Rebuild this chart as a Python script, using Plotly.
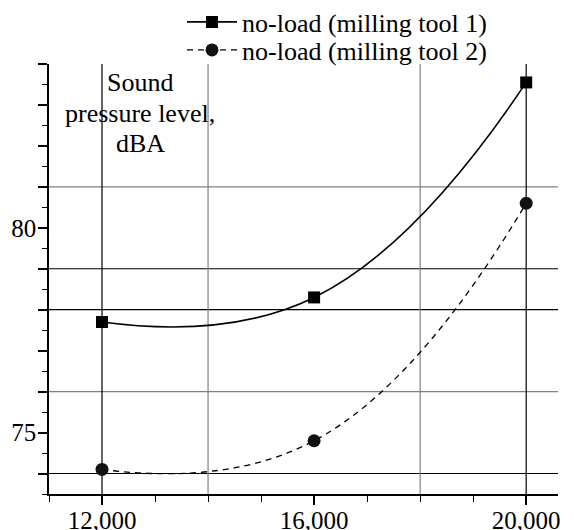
import plotly.graph_objects as go

# ---- data ----
rpm = [12000, 16000, 20000]
tool1 = [77.7, 78.3, 83.55]
tool2 = [74.1, 74.8, 80.6]

x_tick_vals = [12000, 16000, 20000]
x_tick_text = ["12,000", "16,000", "20,000"]
y_tick_vals = [74, 75, 76, 77, 78, 79, 80, 81, 82, 83, 84]
y_tick_text = ["", "75", "", "", "", "", "80", "", "", "", ""]

grid_y = [74, 76, 78, 79, 81]
grid_y_colors = ["#000000", "#808080", "#000000", "#000000", "#808080"]
grid_x = [12000, 14000, 18000, 20000]
grid_x_colors = ["#000000", "#808080", "#808080", "#000000"]

label_lines = ["Sound", "pressure level,", "dBA"]

FONT = "Liberation Serif"

fig = go.Figure()

fig.add_trace(go.Scatter(
    x=rpm, y=tool1, mode="lines+markers", name="no-load (milling tool 1)",
    line=dict(color="black", width=1.6, shape="spline", smoothing=1.3),
    marker=dict(symbol="square", size=12, color="black"),
    legend="legend", showlegend=True,
))
fig.add_trace(go.Scatter(
    x=rpm, y=tool2, mode="lines+markers", name="no-load (milling tool 2)",
    line=dict(color="black", width=1.3, shape="spline", smoothing=1.3, dash="6px,5px"),
    marker=dict(symbol="circle", size=13, color="#111111"),
    legend="legend2", showlegend=True,
))

for gy, c in zip(grid_y, grid_y_colors):
    fig.add_shape(type="line", xref="paper", x0=0, x1=1, yref="y", y0=gy, y1=gy,
                  line=dict(color=c, width=1.2), layer="below")
for gx, c in zip(grid_x, grid_x_colors):
    fig.add_shape(type="line", yref="paper", y0=0, y1=1, xref="x", x0=gx, x1=gx,
                  line=dict(color=c, width=1.2), layer="below")

for txt, yp in zip(label_lines, [0.958, 0.886, 0.816]):
    fig.add_annotation(
        text=txt, xref="paper", yref="paper",
        x=0.1788, y=yp, xanchor="center", yanchor="middle", showarrow=False,
        font=dict(family=FONT, size=26, color="black"), align="center",
    )

fig.update_layout(
    width=574, height=530,
    showlegend=True,
    margin=dict(l=49, r=16, t=64, b=36, autoexpand=False),
    plot_bgcolor="white", paper_bgcolor="white",
    font=dict(family=FONT, size=25, color="black"),
    legend=dict(x=0.2613, y=1.0977, xanchor="left", yanchor="middle",
                font=dict(family=FONT, size=26, color="black"),
                bgcolor="rgba(0,0,0,0)", itemwidth=50),
    legend2=dict(x=0.2613, y=1.0326, xanchor="left", yanchor="middle",
                 font=dict(family=FONT, size=26, color="black"),
                 bgcolor="rgba(0,0,0,0)", itemwidth=50),
    xaxis=dict(
        range=[11000, 20600], showgrid=False, zeroline=False, automargin=False,
        showline=True, linecolor="black", linewidth=1.5,
        tickmode="array", tickvals=x_tick_vals, ticktext=x_tick_text,
        ticks="outside", ticklen=9, tickwidth=1.5, tickcolor="black",
        ticklabelstandoff=-6,
        tickfont=dict(family=FONT, size=25, color="black"),
        minor=dict(tickmode="linear", tick0=11000, dtick=1000, ticks="outside",
                   ticklen=6, tickwidth=1.2, tickcolor="black", showgrid=False),
    ),
    yaxis=dict(
        range=[73.5, 84], showgrid=False, zeroline=False, automargin=False,
        showline=True, linecolor="black", linewidth=1.5,
        tickmode="array", tickvals=y_tick_vals, ticktext=y_tick_text,
        ticks="outside", ticklen=9, tickwidth=1.5, tickcolor="black",
        ticklabelstandoff=-3,
        tickfont=dict(family=FONT, size=25, color="black"),
        minor=dict(tickmode="linear", tick0=73.5, dtick=0.5, ticks="outside",
                   ticklen=5, tickwidth=1.2, tickcolor="black", showgrid=False),
    ),
)

fig.write_html("out.html", config={"displayModeBar": False},
               post_script="document.body.style.margin='0';")
